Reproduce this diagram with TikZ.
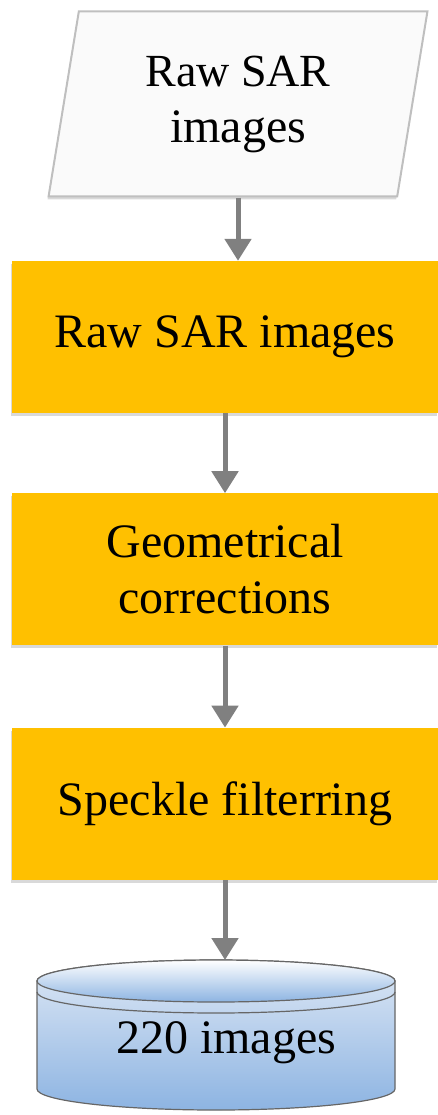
\documentclass[tikz,border=0pt]{standalone}
\usepackage{fontspec}
\setmainfont{Liberation Serif}
\usepackage{tikz}
\usetikzlibrary{positioning}
\usetikzlibrary{shapes.geometric}
\usetikzlibrary{arrows.meta}
\usetikzlibrary{shadows}
\definecolor{boxorange}{RGB}{255,192,0}
\definecolor{arrowgray}{RGB}{128,128,128}
\definecolor{dbblue}{RGB}{141,180,226}
\definecolor{dblight}{RGB}{222,232,245}
\definecolor{paperwhite}{RGB}{250,250,250}

\begin{document}
\begin{tikzpicture}[x=1pt, y=-1pt, font=\fontsize{48}{56}\selectfont,
        >={Triangle[length=22pt,width=26pt]},
        flow/.style={->, draw=arrowgray, line width=5pt},
        stepbox/.style={rectangle, fill=boxorange, minimum width=426pt,
            minimum height=152pt, align=center,
            drop shadow={shadow xshift=-1pt, shadow yshift=-3pt, opacity=0.3}},
        node distance=80pt]
            \useasboundingbox (0,0) rectangle (438,1115);

            \node [trapezium, trapezium left angle=80, trapezium right angle=100,
                trapezium stretches=true, minimum width=380pt, minimum height=185pt,
                fill=paperwhite, draw=black!25, line width=2pt, align=center,
                drop shadow={shadow xshift=-1pt, shadow yshift=-3pt, opacity=0.3}]
                (para) at (238,104) {\fontsize{46}{56}\selectfont Raw SAR\\images};
            \node [stepbox] (raw) at (225,337) {Raw SAR images};
            \node [stepbox, below=of raw] (geo) {Geometrical\\corrections};
            \node [stepbox, below=82pt of geo] (spk) {Speckle filterring};

            % database cylinder
            \path [top color=dblight, bottom color=dbblue, draw=black!60, line width=1.2pt]
                (37,981) -- (37,1089) arc[start angle=180, end angle=0, x radius=179, y radius=21]
                -- (395,981) arc[start angle=0, end angle=-180, x radius=179, y radius=21];
            \draw [black!60, line width=1.2pt] (37,992) arc[start angle=180, end angle=0, x radius=179, y radius=21];
            \path [top color=white, bottom color=dbblue, draw=black!60, line width=1.2pt]
                (216,981) ellipse [x radius=179, y radius=21];
            \node (store) at (226,1043) {220 images};
            \coordinate (dbtop) at (216,960);

            \draw [flow] (para.south) -- (para.south |- raw.north);
            \draw [flow] (raw) -- (geo);
            \draw [flow] (geo) -- (spk);
            \draw [flow] (spk.south) -- (spk.south |- dbtop);
\end{tikzpicture}
\end{document}
